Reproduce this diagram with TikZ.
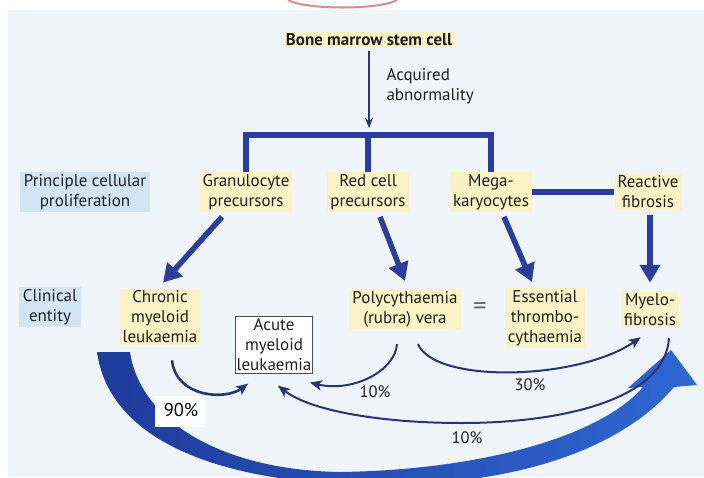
\documentclass[tikz,border=0pt]{standalone}
\usepackage{fontspec}
\setmainfont{PT Sans}
\usetikzlibrary{arrows.meta,calc}
\definecolor{yfill}{HTML}{FBF3C5}
\definecolor{bfill}{HTML}{D3E5F3}
\definecolor{bgblue}{HTML}{EFF5FB}
\definecolor{dblue}{HTML}{2C3D9C}
\definecolor{navy}{HTML}{27337A}
\definecolor{bigL}{HTML}{1F3B9B}
\definecolor{bigR}{HTML}{2F67D3}
\definecolor{txt}{HTML}{1E1E1E}
\definecolor{pinkarc}{HTML}{D48C8C}
\begin{document}
\begin{tikzpicture}[x=1pt,y=-1pt,
  lbl/.style={font=\fontsize{17}{20}\selectfont, text=txt, align=center},
  ybox/.style={lbl, fill=yfill, inner xsep=3pt, inner ysep=2pt},
  bbox/.style={lbl, fill=bfill, inner xsep=4pt, inner ysep=2pt},
  wbox/.style={lbl, fill=white, draw=black!70, line width=0.9pt, inner xsep=1pt, inner ysep=2pt},
  bar/.style={draw=dblue, line width=5.5pt},
  fat/.style={draw=dblue, line width=5.5pt, -{Triangle[width=20pt,length=18pt]}},
  thin/.style={draw=navy, line width=2pt, -{Stealth[length=12pt,width=10pt,inset=3pt]}},
  pct/.style={font=\fontsize{16.5}{19}\selectfont, text=txt}
]
\useasboundingbox (0,0) rectangle (704,477);
% background
\fill[white] (0,0) rectangle (704,477);
\fill[bgblue] (8,10) rectangle (704,477);
\draw[pinkarc, line width=2pt] (288,0) .. controls (305,10) and (380,10) .. (397,0);

% nodes
\node[ybox, font=\fontsize{17}{20}\selectfont\bfseries] (stem) at (369,40) {Bone marrow stem cell};
\node[lbl, align=left, anchor=west] (acq) at (383,86) {Acquired\\abnormality};
\coordinate (hub) at (369,128);

\node[bbox] (princ) at (85,192) {Principle cellular\\proliferation};
\node[ybox] (gran) at (246,192) {Granulocyte\\precursors};
\node[ybox] (red) at (368,192) {Red cell\\precursors};
\node[ybox] (mega) at (491,192) {Mega-\\karyocytes};
\node[ybox] (reac) at (648,192) {Reactive\\fibrosis};

\node[bbox] (clin) at (50,307) {Clinical\\entity};
\node[ybox] (cml) at (160,317) {Chronic\\myeloid\\leukaemia};
\node[wbox] (aml) at (274,345) {Acute\\myeloid\\leukaemia};
\node[ybox] (pv) at (405,309) {Polycythaemia\\(rubra) vera};
\node[lbl, text=black!60, font=\fontsize{26}{26}\selectfont] (eq) at (480,309) {=};
\node[ybox] (et) at (545,318) {Essential\\thrombo-\\cythaemia};
\node[ybox] (mf) at (650,310) {Myelo-\\fibrosis};

% top arrow and bar
\draw[navy, line width=1.3pt, -{Stealth[length=10pt,width=8pt]}] ($(stem.south)+(0,3)$) -- (hub);
\draw[bar] (gran.north) -- ++(0,-37) -| (mega.north);
\draw[bar] (red.north) -- ++(0,-37);
\draw[bar] (mega.east) -- (reac.west);

% thick arrows
\draw[fat] ($(gran.south)+(-24,5)$) -- ($(cml.north)+(3,-6)$);
\draw[fat] ($(red.south)+(12,5)$) -- ($(pv.north)+(0,-8)$);
\draw[fat] ($(mega.south)+(13,5)$) -- ($(et.north)+(-13,-6)$);
\draw[fat] ($(reac.south)+(2,5)$) -- ($(mf.north)+(0,-9)$);

% big arrow
\shade[left color=bigL, right color=bigR]
  (97,352) .. controls (110,445) and (230,485) .. (380,485)
  .. controls (525,485) and (625,445) .. (674,387)
  -- (697,385) -- (671,350) -- (628,388) -- (643,387)
  .. controls (600,437) and (480,470) .. (340,472)
  .. controls (220,470) and (140,420) .. (130,352) -- cycle;
\node[fill=white, minimum width=50pt, minimum height=31pt, inner sep=0pt] (nbox) at (180,411) {};
\node[font=\fontsize{18.5}{20}\selectfont, text=black] (p90) at (181,410) {90\%};

% thin curved arrows
\draw[thin, line width=2.6pt] ($(cml.south)+(12,15)$) .. controls +(4,37) and +(-23,17) .. ($(aml.south west)+(13,10)$);
\draw[thin] ($(pv.south)+(-8,15)$) .. controls +(-2,27) and +(43,10) .. ($(aml.south east)+(-3,9)$);
\draw[thin] ($(pv.south)+(13,15)$) .. controls +(17,40) and +(-62,43) .. ($(mf.south west)+(20,9)$);
\coordinate (low) at (462,423);
\draw[thin] ($(mf.south)+(19,10)$) .. controls +(-4,62) and +(98,0) .. (low)
  .. controls +(-82,0) and +(32,25) .. ($(aml.south)+(4,12)$);

\node[pct] (p10a) at (375,392) {10\%};
\node[pct] (p30) at (530,385) {30\%};
\node[pct] (p10b) at (467,438) {10\%};
\end{tikzpicture}
\end{document}
